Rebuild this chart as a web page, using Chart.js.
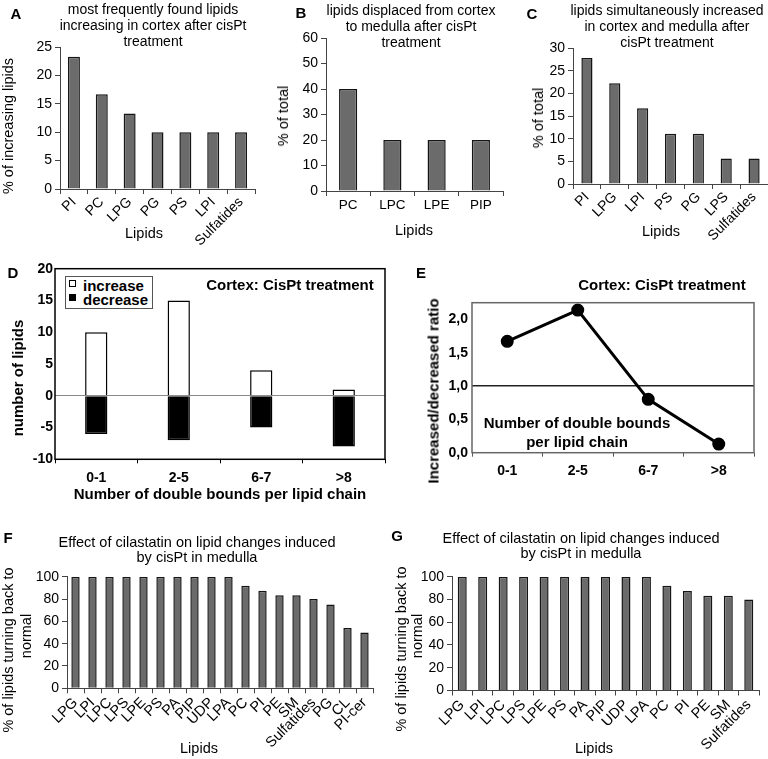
<!DOCTYPE html>
<html>
<head>
<meta charset="utf-8">
<script src="https://cdn.jsdelivr.net/npm/chart.js@4.4.0/dist/chart.umd.min.js"></script>
<style>
body { margin: 0; background: #fff; }
#fig { position: relative; width: 768px; height: 759px; overflow: hidden; font-family: "Liberation Sans", Arial, sans-serif; color: #000; background: #fff; }
#fig canvas { position: absolute; }
.txt { position: absolute; white-space: nowrap; transform: translate(-50%, -50%); font-size: 14.5px; }
.vt { position: absolute; white-space: nowrap; transform: translate(-50%, -50%) rotate(-90deg); font-size: 14.5px; }
.ttl { position: absolute; white-space: nowrap; transform: translateX(-50%); text-align: center; font-size: 14px; line-height: 15.8px; }
.b { font-weight: bold; font-size: 15px; }
.letter { font-weight: bold; font-size: 15px; }
#legD { position: absolute; left: 65px; top: 276px; width: 88px; height: 33px; border: 1px solid #555; background: #fff; font-weight: bold; font-size: 15px; line-height: 14px; padding-top: 2px; box-sizing: border-box; }
#legD div { white-space: nowrap; }
#legD span { display: inline-block; width: 5px; height: 5px; border: 1px solid #000; margin: 0 7px 0 3px; vertical-align: 4px; }
</style>
</head>
<body>
<div id="fig">
  <canvas id="cA" width="258" height="248" style="left:0;top:0"></canvas>
  <canvas id="cB" width="252" height="215" style="left:255px;top:0"></canvas>
  <canvas id="cC" width="263" height="248" style="left:505px;top:0"></canvas>
  <canvas id="cD" width="400" height="262" style="left:0;top:245px"></canvas>
  <canvas id="cE" width="368" height="245" style="left:400px;top:260px"></canvas>
  <canvas id="cF" width="384" height="239" style="left:0;top:520px"></canvas>
  <canvas id="cG" width="384" height="239" style="left:384px;top:520px"></canvas>

  <div class="txt letter" style="left:16px;top:13px">A</div>
  <div class="txt letter" style="left:301px;top:12px">B</div>
  <div class="txt letter" style="left:532px;top:13px">C</div>
  <div class="txt letter" style="left:13px;top:272px">D</div>
  <div class="txt letter" style="left:421px;top:272px">E</div>
  <div class="txt letter" style="left:8px;top:537px">F</div>
  <div class="txt letter" style="left:397px;top:535px">G</div>

  <div class="ttl" style="left:153px;top:2px">most frequently found lipids<br>increasing in cortex after cisPt<br>treatment</div>
  <div class="ttl" style="left:411px;top:3px">lipids displaced from cortex<br>to medulla after cisPt<br>treatment</div>
  <div class="ttl" style="left:667px;top:3px">lipids simultaneously increased<br>in cortex and medulla after<br>cisPt treatment</div>
  <div class="ttl" style="left:197px;top:535px;font-size:14.5px;line-height:15px">Effect of cilastatin on lipid changes induced<br>by cisPt in medulla</div>
  <div class="ttl" style="left:581px;top:531px;font-size:14.5px;line-height:15px">Effect of cilastatin on lipid changes induced<br>by cisPt in medulla</div>

  <!-- axis titles -->
  <div class="vt" style="left:8px;top:126px">% of increasing lipids</div>
  <div class="vt" style="left:283px;top:116px">% of total</div>
  <div class="vt" style="left:538px;top:118px">% of total</div>
  <div class="vt b" style="left:17px;top:378px">number of lipids</div>
  <div class="vt b" style="left:433px;top:391px">Increased/decreased ratio</div>
  <div class="vt" style="left:8px;top:650px">% of lipids turning back to</div>
  <div class="vt" style="left:26px;top:636px">normal</div>
  <div class="vt" style="left:401px;top:649px">% of lipids turning back to</div>
  <div class="vt" style="left:417px;top:636px">normal</div>

  <div class="txt" style="left:144px;top:233px">Lipids</div>
  <div class="txt" style="left:414px;top:230px">Lipids</div>
  <div class="txt" style="left:661px;top:231px">Lipids</div>
  <div class="txt" style="left:199px;top:748px">Lipids</div>
  <div class="txt" style="left:594px;top:748px">Lipids</div>

  <div class="txt b" style="left:290px;top:284px">Cortex: CisPt treatment</div>
  <div class="txt b" style="left:662px;top:284px">Cortex: CisPt treatment</div>
  <div class="txt b" style="left:577px;top:432px;text-align:center;line-height:19px">Number of double bounds<br>per lipid chain</div>

  <div id="legD"></div>
</div>

<script>
// panel A
var lipidsA = ['PI', 'PC', 'LPG', 'PG', 'PS', 'LPI', 'Sulfatides'];
var pctIncreasingA = [23.3, 16.7, 13.3, 10, 10, 10, 10];
// panel B
var lipidsB = ['PC', 'LPC', 'LPE', 'PIP'];
var pctTotalB = [40, 20, 20, 20];
// panel C
var lipidsC = ['PI', 'LPG', 'LPI', 'PS', 'PG', 'LPS', 'Sulfatides'];
var pctTotalC = [27.8, 22.2, 16.7, 11.1, 11.1, 5.6, 5.6];
// panels D and E
var doubleBonds = ['0-1', '2-5', '6-7', '>8'];
var nIncrease = [10, 15, 4, 1];
var nDecrease = [-6, -7, -5, -8];
var ratioIncDec = [1.67, 2.14, 0.8, 0.13];
// panel F
var lipidsF = ['LPG', 'LPI', 'LPC', 'LPS', 'LPE', 'PS', 'PA', 'PIP', 'UDP', 'LPA', 'PC', 'PI', 'PE', 'SM', 'Sulfatides', 'PG', 'CL', 'PI-cer'];
var pctNormalF = [100, 100, 100, 100, 100, 100, 100, 100, 100, 100, 92, 87.5, 83.3, 83.3, 80, 75, 54, 50];
// panel G
var lipidsG = ['LPG', 'LPI', 'LPC', 'LPS', 'LPE', 'PS', 'PA', 'PIP', 'UDP', 'LPA', 'PC', 'PI', 'PE', 'SM', 'Sulfatides'];
var pctNormalG = [100, 100, 100, 100, 100, 100, 100, 100, 100, 100, 92, 87.5, 83.3, 83.3, 80];

Chart.defaults.font.family = '"Liberation Sans", Arial, sans-serif';
Chart.defaults.font.size = 14;
Chart.defaults.color = '#000';
Chart.defaults.animation = false;
Chart.defaults.responsive = false;
Chart.defaults.devicePixelRatio = 1;
Chart.defaults.plugins.legend.display = false;
Chart.defaults.plugins.tooltip.enabled = false;

var GREY_BAR = '#6b6b6b';
var AXIS = '#444';

function fixW(w) { return function(s) { s.width = w; }; }
function fixH(h) { return function(s) { s.height = h; }; }

// box round the plot area (D and E)
var framePlugin = {
    id: 'frame',
    afterDraw: function(chart, args, opts) {
        var a = chart.chartArea;
        var ctx = chart.ctx;
        ctx.save();
        ctx.strokeStyle = opts.color;
        ctx.lineWidth = opts.width;
        ctx.strokeRect(a.left, a.top, a.right - a.left, a.bottom - a.top);
        ctx.restore();
    }
};

var barChart = function(id, labels, values, o) {
    return new Chart(document.getElementById(id), {
        type: 'bar',
        data: {
            labels: labels,
            datasets: [{
                data: values,
                backgroundColor: GREY_BAR,
                borderColor: '#151515',
                borderWidth: 1.5,
                barPercentage: o.bar,
                categoryPercentage: 1
            }]
        },
        options: {
            layout: { padding: o.pad },
            scales: {
                x: {
                    afterFit: fixH(o.xH),
                    grid: { offset: true, drawOnChartArea: false, tickLength: 5, color: AXIS },
                    border: { color: AXIS },
                    ticks: { autoSkip: false, minRotation: o.rot, maxRotation: o.rot, padding: o.xPad, font: { size: o.xFont } }
                },
                y: {
                    min: 0,
                    max: o.max,
                    afterFit: fixW(o.yW),
                    grid: { drawOnChartArea: false, tickLength: 5, color: AXIS },
                    border: { color: AXIS },
                    ticks: { stepSize: o.step, padding: 3 }
                }
            }
        }
    });
};

barChart('cA', lipidsA, pctIncreasingA, {
    pad: { top: 47, right: 3, left: 0, bottom: 0 }, xH: 59, yW: 60,
    bar: 0.43, rot: 45, xPad: 0, xFont: 14, max: 25, step: 5
});

barChart('cB', lipidsB, pctTotalB, {
    pad: { top: 38, right: 4, left: 0, bottom: 0 }, xH: 24, yW: 71,
    bar: 0.41, rot: 0, xPad: 1, xFont: 13.5, max: 60, step: 10
});

barChart('cC', lipidsC, pctTotalC, {
    pad: { top: 48, right: 0, left: 0, bottom: 0 }, xH: 64, yW: 68,
    bar: 0.4, rot: 45, xPad: 0, xFont: 14, max: 30, step: 5
});

barChart('cF', lipidsF, pctNormalF, {
    pad: { top: 56.7, right: 11, left: 0, bottom: 0 }, xH: 70.7, yW: 67,
    bar: 0.49, rot: 45, xPad: 1, xFont: 14.5, max: 100, step: 20
});

barChart('cG', lipidsG, pctNormalG, {
    pad: { top: 56.7, right: 9, left: 0, bottom: 0 }, xH: 68.5, yW: 68,
    bar: 0.44, rot: 45, xPad: 1, xFont: 14.5, max: 100, step: 20
});

var chartD = new Chart(document.getElementById('cD'), {
    type: 'bar',
    data: {
        labels: doubleBonds,
        datasets: [{
            label: 'increase',
            data: nIncrease,
            backgroundColor: '#fff',
            borderColor: '#000',
            borderWidth: 1.5,
            barPercentage: 0.27,
            categoryPercentage: 1
        }, {
            label: 'decrease',
            data: nDecrease,
            backgroundColor: '#000',
            borderColor: '#000',
            borderWidth: 1.5,
            barPercentage: 0.27,
            categoryPercentage: 1
        }]
    },
    options: {
        layout: { padding: { top: 23.7, right: 15, left: 0, bottom: 0 } },
        scales: {
            x: {
                stacked: true,
                afterFit: fixH(47.7),
                grid: { offset: true, drawOnChartArea: false, tickLength: 4, color: '#000' },
                border: { display: false },
                ticks: { padding: 6, font: { weight: 'bold' } },
                title: {
                    display: true,
                    text: 'Number of double bounds per lipid chain',
                    font: { size: 15, weight: 'bold' },
                    padding: { top: 0, bottom: 3 }
                }
            },
            y: {
                stacked: true,
                min: -10,
                max: 20,
                afterFit: fixW(55),
                grid: {
                    drawTicks: false,
                    color: function(c) { return c.tick && c.tick.value === 0 ? '#888' : 'rgba(0,0,0,0)'; }
                },
                border: { display: false },
                ticks: { stepSize: 5, padding: 2, font: { weight: 'bold' } }
            }
        },
        plugins: { frame: { color: '#000', width: 1.5 } }
    },
    plugins: [framePlugin]
});

// html legend for D, from the datasets
var legD = document.getElementById('legD');
chartD.data.datasets.forEach(function(ds) {
    var row = document.createElement('div');
    var sw = document.createElement('span');
    sw.style.background = ds.backgroundColor;
    row.appendChild(sw);
    row.appendChild(document.createTextNode(ds.label));
    legD.appendChild(row);
});

new Chart(document.getElementById('cE'), {
    type: 'line',
    data: {
        labels: doubleBonds,
        datasets: [{
            data: ratioIncDec,
            borderColor: '#000',
            backgroundColor: '#000',
            borderWidth: 3,
            pointRadius: 5,
            pointBackgroundColor: '#000',
            tension: 0
        }]
    },
    options: {
        layout: { padding: { top: 42.7, right: 14, left: 0, bottom: 0 } },
        scales: {
            x: {
                offset: true,
                afterFit: fixH(52.3),
                grid: { offset: true, drawOnChartArea: false, tickLength: 4, color: '#555' },
                border: { display: false },
                ticks: { padding: 6, font: { weight: 'bold' } }
            },
            y: {
                min: 0,
                max: 2.25,
                afterFit: fixW(72),
                grid: {
                    drawTicks: false,
                    lineWidth: 1.5,
                    color: function(c) { return c.tick && c.tick.value === 1 ? '#222' : 'rgba(0,0,0,0)'; }
                },
                border: { display: false },
                ticks: {
                    stepSize: 0.5,
                    includeBounds: false,
                    padding: 4,
                    font: { weight: 'bold' },
                    callback: function(v) { return v.toFixed(1).replace('.', ','); }
                }
            }
        },
        plugins: { frame: { color: '#666', width: 1.5 } }
    },
    plugins: [framePlugin]
});
</script>
</body>
</html>
